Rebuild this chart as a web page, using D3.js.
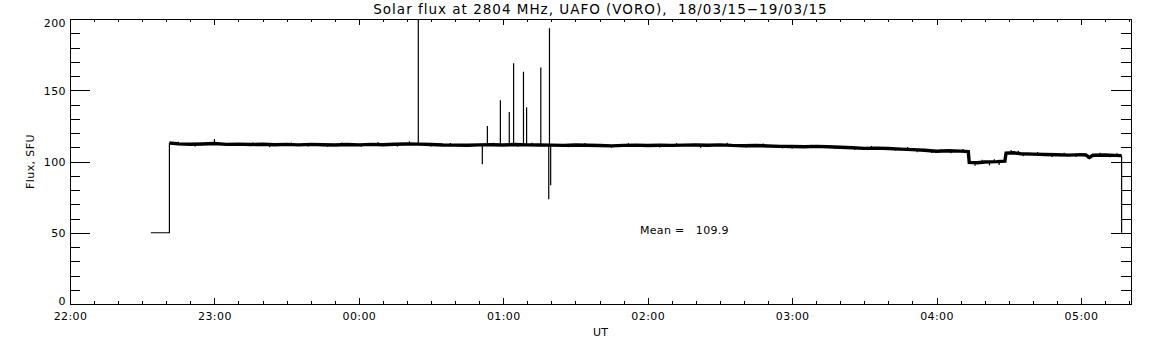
<!DOCTYPE html>
<html>
<head>
<meta charset="utf-8">
<script src="https://cdn.jsdelivr.net/npm/d3@7"></script>
<style>
  body { margin: 0; background: #fff; }
  text { font-family: "DejaVu Sans", sans-serif; fill: #000; }
</style>
</head>
<body>
<div id="chart"></div>
<script>
// minutes after 22:00 UT on 18/03/15, flux in SFU
const traceMin = [41.3, 45, 50, 55, 60, 65, 70, 75, 80, 85, 90, 95, 100, 105, 110, 115, 120, 125, 130, 135,
  140, 145, 150, 155, 160, 165, 170, 175, 180, 185, 190, 195, 200, 205, 210, 215, 220, 225, 230, 235,
  240, 245, 250, 255, 260, 265, 270, 275, 280, 285, 290, 295, 300, 305, 310, 315, 320, 325, 330, 335,
  340, 345, 350, 355, 360, 365, 370, 373.2, 373.6, 377, 380, 385, 388.4, 388.9, 392, 395, 400, 405, 410,
  415, 420, 422, 423.5, 425, 430, 434, 436.9];
const traceVal = [113.0, 112.4, 112.1, 112.3, 112.6, 112.0, 112.2, 111.9, 112.1, 111.8, 112.0, 111.7, 112.0, 111.8, 111.6, 111.9, 111.7, 112.0, 111.8, 112.1,
  112.3, 112.2, 111.9, 111.6, 111.5, 111.4, 111.7, 111.8, 111.6, 111.9, 111.7, 111.6, 111.5, 111.3, 111.6, 111.4, 111.2, 111.0, 111.3, 111.5,
  111.2, 111.4, 111.3, 111.5, 111.6, 111.4, 111.7, 111.3, 111.1, 111.2, 110.9, 110.6, 110.5, 110.3, 110.6, 110.4, 110.0, 109.6, 109.2, 109.4,
  109.1, 108.7, 108.3, 107.9, 107.2, 107.5, 107.3, 107.0, 99.4, 99.1, 99.6, 99.9, 100.3, 105.9, 106.1, 105.4, 105.2, 104.9, 104.7,
  104.5, 104.8, 104.6, 102.8, 104.4, 104.6, 104.3, 104.1];

// receiver off (calibration level) before and after the run
const offStartMin = [33.6, 41.3];
const offStartVal = [50, 50];
const offEndMin = [436.9, 436.9];
const offEndVal = [104.1, 50];

// bursts / interference spikes
const spikeMin = [144.7, 171.3, 173.4, 178.8, 182.5, 184.3, 188.4, 189.7, 195.6, 199.2, 198.9, 199.7];
const spikeVal = [215, 98, 125, 143, 134.7, 169, 163, 138, 166, 193.5, 73.5, 83.3];

// small noise glitches on the trace
const glitchMin = [45, 52, 60, 68, 76, 83, 92, 99, 107, 113, 121, 128, 136, 141, 150, 158, 166, 176, 186, 192,
  207, 214, 225, 232, 245, 252, 262, 273, 281, 288, 296, 300, 308, 318, 326, 333, 343, 348, 352, 358,
  362, 366, 371, 376, 379, 382, 384, 386, 391, 394, 396, 402, 408, 413, 418, 423, 428, 432, 435];
const glitchVal = [113.8, 110.6, 115.8, 110.8, 113.4, 110.0, 113.3, 110.5, 110.3, 113.4, 110.4, 113.6, 110.6, 114.2, 110.5, 113.0, 110.2, 113.2, 110.3, 113.1,
  110.0, 112.9, 109.6, 112.8, 109.8, 112.9, 109.7, 113.2, 109.8, 112.6, 109.2, 108.9, 111.8, 108.8, 108.1, 110.9, 107.6, 110.2, 106.5, 105.9,
  108.8, 105.8, 108.7, 97.0, 101.2, 97.3, 101.5, 97.5, 108.0, 107.6, 103.6, 106.7, 103.2, 106.2, 103.1, 101.8, 106.1, 103.0, 105.8];

const yMajor = [0, 50, 100, 150, 200];
const meanText = "Mean =   109.9";
const title = "Solar flux at 2804 MHz, UAFO (VORO),  18/03/15\u221219/03/15";

const W = 1152, H = 345;
const pLeft = 70, pRight = 1131, pTop = 19, pBottom = 304;

const t0 = Date.UTC(2015, 2, 18, 22, 0);
const toDate = (m) => new Date(t0 + m * 60000);

const x = d3.scaleUtc()
  .domain([toDate(0), toDate(440.8)])
  .range([pLeft, pRight]);

const y = d3.scaleLinear()
  .domain([0, 200])
  .range([pBottom, pTop]);

const svg = d3.select("#chart")
  .append("svg")
  .attr("width", W)
  .attr("height", H);

svg.append("clipPath")
  .attr("id", "plotClip")
  .append("rect")
  .attr("x", pLeft)
  .attr("y", pTop)
  .attr("width", pRight - pLeft)
  .attr("height", pBottom - pTop);

// helper to strip d3 default axis styling
function clean(g) {
  g.attr("font-size", null).attr("font-family", null);
  g.select(".domain").remove();
  g.selectAll("line").attr("shape-rendering", "crispEdges");
}

// y axes (left with labels, right mirrored)
svg.append("g")
  .attr("transform", "translate(" + pLeft + ",0)")
  .call(d3.axisLeft(y).ticks(20).tickSizeInner(-10).tickSizeOuter(0).tickFormat(""))
  .call(clean);
const yLab = svg.append("g")
  .attr("transform", "translate(" + pLeft + ",0)")
  .call(d3.axisLeft(y).tickValues(yMajor).tickSizeInner(-20).tickSizeOuter(0).tickPadding(4))
  .call(clean);
yLab.selectAll("text").style("font-size", "11px").style("letter-spacing", "0.4px")
  .attr("dy", (d) => d === 0 ? "0em" : d === 200 ? "0.72em" : "0.36em");

svg.append("g")
  .attr("transform", "translate(" + pRight + ",0)")
  .call(d3.axisRight(y).ticks(20).tickSizeInner(-10).tickSizeOuter(0).tickFormat(""))
  .call(clean);
svg.append("g")
  .attr("transform", "translate(" + pRight + ",0)")
  .call(d3.axisRight(y).tickValues(yMajor).tickSizeInner(-20).tickSizeOuter(0).tickFormat(""))
  .call(clean);

// x axes (bottom with labels, top mirrored)
svg.append("g")
  .attr("transform", "translate(0," + pBottom + ")")
  .call(d3.axisBottom(x).ticks(d3.utcMinute.every(10)).tickSizeInner(-3).tickSizeOuter(0).tickFormat(""))
  .call(clean);
const xLab = svg.append("g")
  .attr("transform", "translate(0," + pBottom + ")")
  .call(d3.axisBottom(x).ticks(d3.utcHour.every(1)).tickSizeInner(-6).tickSizeOuter(0)
    .tickPadding(8).tickFormat(d3.utcFormat("%H:%M")))
  .call(clean);
xLab.selectAll("text").style("font-size", "11px").style("letter-spacing", "0.4px");

svg.append("g")
  .attr("transform", "translate(0," + pTop + ")")
  .call(d3.axisTop(x).ticks(d3.utcMinute.every(10)).tickSizeInner(-3).tickSizeOuter(0).tickFormat(""))
  .call(clean);
svg.append("g")
  .attr("transform", "translate(0," + pTop + ")")
  .call(d3.axisTop(x).ticks(d3.utcHour.every(1)).tickSizeInner(-6).tickSizeOuter(0).tickFormat(""))
  .call(clean);

// frame
svg.append("rect")
  .attr("x", pLeft)
  .attr("y", pTop)
  .attr("width", pRight - pLeft)
  .attr("height", pBottom - pTop)
  .attr("fill", "none")
  .attr("stroke", "#000")
  .attr("shape-rendering", "crispEdges");

// data
const plot = svg.append("g").attr("clip-path", "url(#plotClip)");
const line = d3.line().x((d) => x(toDate(d[0]))).y((d) => y(d[1]));

const level = (m) => {
  const i = Math.max(1, Math.min(traceMin.length - 1, d3.bisectLeft(traceMin, m)));
  const a = traceMin[i - 1], b = traceMin[i];
  const f = (m - a) / (b - a);
  return traceVal[i - 1] + f * (traceVal[i] - traceVal[i - 1]);
};

const startPts = offStartMin.map((m, i) => [m, offStartVal[i]]).concat([[traceMin[0], traceVal[0]]]);
plot.append("path")
  .attr("d", line(startPts))
  .attr("fill", "none")
  .attr("stroke", "#000")
  .attr("stroke-width", 1.2);

plot.append("path")
  .attr("d", line(offEndMin.map((m, i) => [m, offEndVal[i]])))
  .attr("fill", "none")
  .attr("stroke", "#000")
  .attr("stroke-width", 1.2);

plot.append("path")
  .attr("d", line(traceMin.map((m, i) => [m, traceVal[i]])))
  .attr("fill", "none")
  .attr("stroke", "#000")
  .attr("stroke-width", 3.4)
  .attr("stroke-linejoin", "miter");

plot.selectAll(".glitch")
  .data(glitchMin)
  .enter()
  .append("line")
  .attr("class", "glitch")
  .attr("x1", (d) => x(toDate(d)))
  .attr("x2", (d) => x(toDate(d)))
  .attr("y1", (d) => y(level(d)))
  .attr("y2", (d, i) => y(glitchVal[i]))
  .attr("stroke", "#000")
  .attr("stroke-width", 1.2);

plot.selectAll(".spike")
  .data(spikeMin)
  .enter()
  .append("line")
  .attr("class", "spike")
  .attr("x1", (d) => x(toDate(d)))
  .attr("x2", (d) => x(toDate(d)))
  .attr("y1", (d) => y(level(d)))
  .attr("y2", (d, i) => y(spikeVal[i]))
  .attr("stroke", "#000")
  .attr("stroke-width", 1.2);

// texts
svg.append("text")
  .attr("x", (pLeft + pRight) / 2)
  .attr("y", 14)
  .attr("text-anchor", "middle")
  .style("font-size", "13.5px")
  .style("letter-spacing", "1px")
  .style("white-space", "pre")
  .text(title);

svg.append("text")
  .attr("transform", "translate(34," + ((pTop + pBottom) / 2) + ") rotate(-90)")
  .attr("text-anchor", "middle")
  .style("font-size", "11px")
  .style("letter-spacing", "0.4px")
  .text("Flux, SFU");

svg.append("text")
  .attr("x", (pLeft + pRight) / 2)
  .attr("y", 336)
  .attr("text-anchor", "middle")
  .style("font-size", "11px")
  .text("UT");

svg.append("text")
  .attr("x", 640)
  .attr("y", 234)
  .style("font-size", "11px")
  .style("letter-spacing", "0.3px")
  .style("white-space", "pre")
  .text(meanText);
</script>
</body>
</html>
